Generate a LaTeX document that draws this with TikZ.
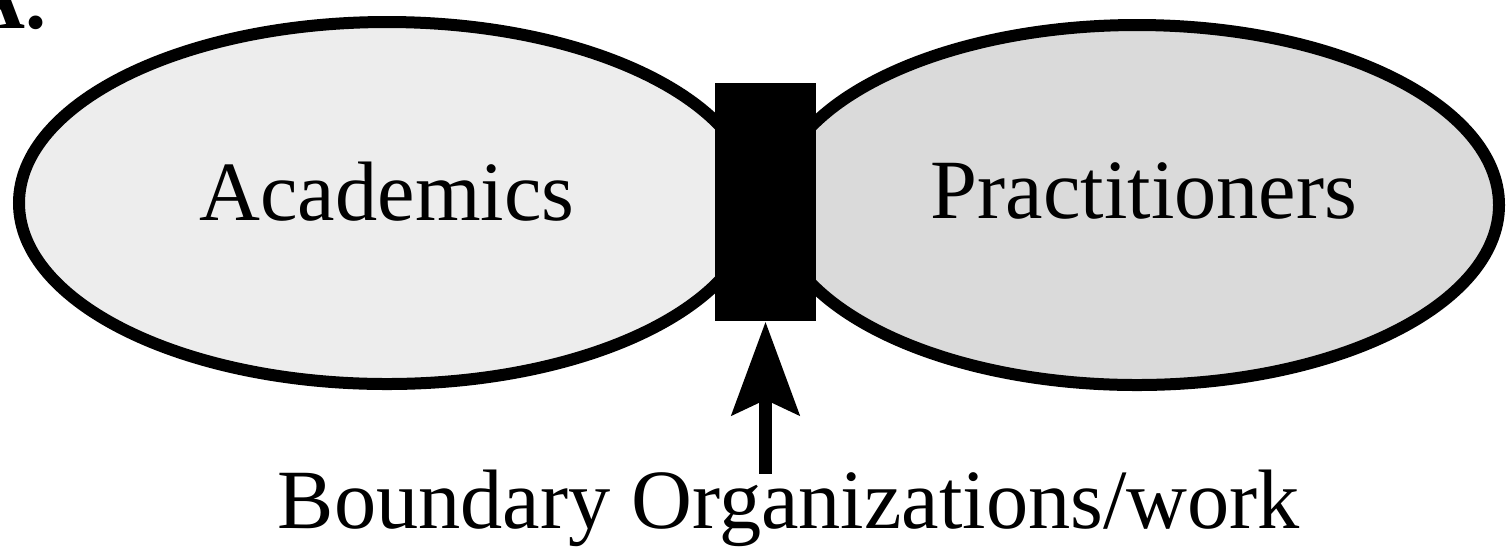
\documentclass[tikz,border=0pt]{standalone}
\usepackage{fontspec}
\setmainfont{Liberation Serif}
\usetikzlibrary{shapes.geometric,arrows.meta}
\definecolor{grigiochiaro}{gray}{0.93}
\definecolor{grigioscuro}{gray}{0.855}
\tikzset{
  lobo/.style={ellipse, draw=black, line width=0.12cm, inner sep=0pt},
  etichetta/.style={font=\fontsize{24}{28}\selectfont, inner sep=0pt}
}
\begin{document}
\begin{tikzpicture}
        \useasboundingbox (0,0) rectangle (15.1,5.47);
        % Lettera del pannello
        \node[etichetta, font=\fontsize{24}{28}\selectfont\bfseries, anchor=base west] (lettera) at (-0.36,5.19) {A.};
        
        % Ellisse sinistra
        \node[lobo, fill=grigiochiaro, minimum width=7.36cm, minimum height=3.62cm] (acc) at (3.87,3.44) {};
        \node[etichetta, anchor=base] (tacc) at (3.87,3.27) {Academics};
        
        % Ellisse destra
        \node[lobo, fill=grigioscuro, minimum width=7.24cm, minimum height=3.60cm] (prat) at (11.37,3.42) {};
        \node[etichetta, anchor=base] (tprat) at (11.44,3.29) {Practitioners};
        
        % Blocco centrale
        \node[fill=black, minimum width=1.01cm, minimum height=2.38cm, inner sep=0pt] (conf) at (7.655,3.45) {};
        
        % Didascalia e freccia
        \node[etichetta, anchor=base] (lbl) at (7.89,0.19) {Boundary Organizations/work};
        \draw[-{Stealth[length=0.93cm, width=0.67cm, inset=0.15cm]}, line width=0.13cm] ([yshift=-0.05cm]conf.south |- lbl.north) -- (conf.south);
        
    \end{tikzpicture}
\end{document}
